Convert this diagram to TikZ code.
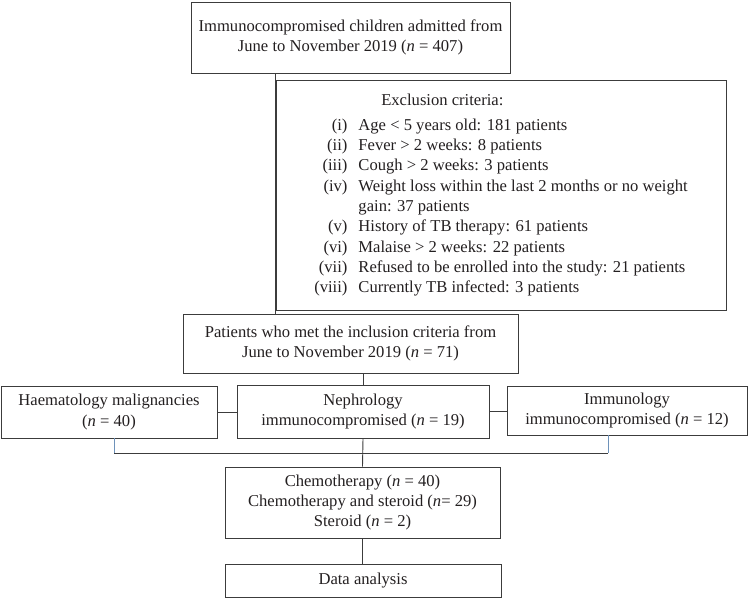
\documentclass[tikz,border=0pt]{standalone}
\usepackage{fontspec}
\setmainfont{Liberation Serif}
\definecolor{boxline}{HTML}{3C3C3C}
\definecolor{textink}{HTML}{231F20}
\definecolor{bracketblue}{HTML}{6E92BA}
\tikzset{
  flowbox/.style={draw=boxline, line width=0.9pt, inner sep=0pt, align=center,
    text=textink, font={\fontsize{16.6}{20.3}\selectfont}},
  link/.style={draw=boxline, line width=0.9pt},
  bluelink/.style={draw=bracketblue, line width=0.9pt}
}
\begin{document}
\begin{tikzpicture}[x=1pt,y=-1pt]
\useasboundingbox (0,0) rectangle (748,598);
\node[flowbox, minimum width=319pt, minimum height=71pt] (admitted) at (350.5,37.5)
  {Immunocompromised children admitted from\\June to November 2019 (\textit{n} = 407)};
\node[flowbox, minimum width=450pt, minimum height=230pt] (exclusion) at (501,195)
  {\begin{tabular}{@{}r@{\hspace{11pt}}l@{}}
   \multicolumn{2}{@{}l@{}}{\hspace{67pt}Exclusion criteria:}\\[4.7pt]
   (i) & Age < 5 years old: 181 patients\\
   (ii) & Fever > 2 weeks: 8 patients\\
   (iii) & Cough > 2 weeks: 3 patients\\
   (iv) & Weight loss within the last 2 months or no weight\\
        & gain: 37 patients\\
   (v) & History of TB therapy: 61 patients\\
   (vi) & Malaise > 2 weeks: 22 patients\\
   (vii) & Refused to be enrolled into the study: 21 patients\\
   (viii) & Currently TB infected: 3 patients
   \end{tabular}};
\node[flowbox, minimum width=335pt, minimum height=59pt] (included) at (350.5,343.5)
  {Patients who met the inclusion criteria from\\June to November 2019 (\textit{n} = 71)};
\node[flowbox, minimum width=216pt, minimum height=52pt] (haem) at (109,412)
  {Haematology malignancies\\(\textit{n} = 40)};
\node[flowbox, minimum width=252pt, minimum height=53pt] (neph) at (363,411.5)
  {Nephrology\\immunocompromised (\textit{n} = 19)};
\node[flowbox, minimum width=240pt, minimum height=49pt] (immu) at (627,410.5)
  {Immunology\\immunocompromised (\textit{n} = 12)};
\node[flowbox, minimum width=275pt, minimum height=71pt] (chemo) at (362.5,502.5)
  {Chemotherapy (\textit{n} = 40)\\Chemotherapy and steroid (\textit{n}= 29)\\Steroid (\textit{n} = 2)};
\node[flowbox, minimum width=276pt, minimum height=33pt] (analysis) at (363,580.5)
  {Data analysis};
\draw[link] (admitted.south -| exclusion.west) -- (exclusion.west |- included.north);
\draw[link] (neph.north) -- (neph.north |- included.south);
\draw[link] (haem.east) -- (haem.east -| neph.west);
\draw[link] (neph.east) -- (neph.east -| immu.west);
\coordinate (joinleft) at (114,453);
\coordinate (joinright) at (608,453);
\draw[bluelink] (haem.south -| joinleft) -- (joinleft);
\draw[bluelink] (immu.south -| joinright) -- (joinright);
\draw[link] (joinleft) -- (joinright);
\draw[link] (neph.south) -- (chemo.north);
\draw[link] (chemo.south) -- (chemo.south |- analysis.north);
\end{tikzpicture}
\end{document}
